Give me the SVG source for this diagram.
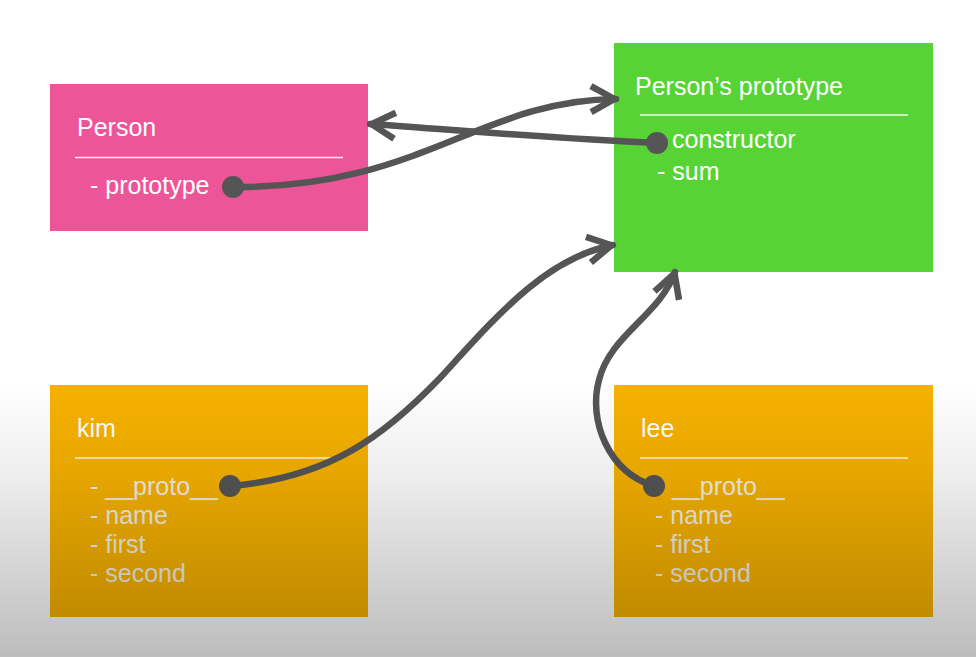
<svg xmlns="http://www.w3.org/2000/svg" width="976" height="657" viewBox="0 0 976 657">
  <defs>
    <style>
      .box-title { font-family: "Liberation Sans", Arial, sans-serif; font-size: 25px; fill: #ffffff; }
      .item { font-family: "Liberation Sans", Arial, sans-serif; font-size: 25px; fill: #ffffff; }
      .item-soft { fill: #f3efe4; }
      .rule { stroke: #ffffff; stroke-width: 1.5; opacity: 0.9; }
      .link { fill: none; stroke: #555555; stroke-width: 6.5; stroke-linecap: round; }
      .dot { fill: #555555; }
    </style>
    <marker id="chevron" markerUnits="userSpaceOnUse" markerWidth="60" markerHeight="60"
            refX="0" refY="0" orient="auto" overflow="visible" viewBox="-30 -30 60 60">
      <path d="M-25,-13 L-1.5,0 L-25,13" fill="none" stroke="#555555" stroke-width="6.5"
            stroke-linejoin="round" stroke-linecap="butt"/>
    </marker>
    <linearGradient id="shade" x1="0" y1="380" x2="0" y2="657" gradientUnits="userSpaceOnUse">
      <stop offset="0" stop-color="#000" stop-opacity="0"/>
      <stop offset="0.35" stop-color="#000" stop-opacity="0.07"/>
      <stop offset="1" stop-color="#000" stop-opacity="0.26"/>
    </linearGradient>
  </defs>

  <rect x="0" y="0" width="976" height="657" fill="#ffffff"/>

  <!-- Person constructor function -->
  <g id="person">
    <rect x="50" y="84" width="318" height="147" fill="#ec5598"/>
    <text class="box-title" x="77" y="136">Person</text>
    <line class="rule" x1="75" y1="157.5" x2="343" y2="157.5"/>
    <text class="item" x="90" y="194">- prototype</text>
  </g>

  <!-- Person's prototype object -->
  <g id="person-prototype">
    <rect x="614" y="43" width="319" height="229" fill="#57d336"/>
    <text class="box-title" x="635" y="95">Person’s prototype</text>
    <line class="rule" x1="640" y1="115" x2="908" y2="115"/>
    <text class="item" x="672" y="148">constructor</text>
    <text class="item" x="657" y="180">- sum</text>
  </g>

  <!-- instance kim -->
  <g id="kim">
    <rect x="50" y="385" width="318" height="232" fill="#f7b200"/>
    <text class="box-title" x="77" y="437">kim</text>
    <line class="rule" x1="75" y1="458" x2="343" y2="458"/>
    <text class="item item-soft" x="90" y="495">- __proto__</text>
    <text class="item item-soft" x="90" y="524">- name</text>
    <text class="item item-soft" x="90" y="553">- first</text>
    <text class="item item-soft" x="90" y="582">- second</text>
  </g>

  <!-- instance lee -->
  <g id="lee">
    <rect x="614" y="385" width="319" height="232" fill="#f7b200"/>
    <text class="box-title" x="641" y="437">lee</text>
    <line class="rule" x1="640" y1="458" x2="908" y2="458"/>
    <text class="item item-soft" x="672" y="495">__proto__</text>
    <text class="item item-soft" x="655" y="524">- name</text>
    <text class="item item-soft" x="655" y="553">- first</text>
    <text class="item item-soft" x="655" y="582">- second</text>
  </g>

  <!-- references between objects -->
  <g id="connectors">
    <!-- Person.prototype -> Person's prototype -->
    <path class="link" d="M232,187 C420,189 480,100 616,99" marker-end="url(#chevron)"/>
    <!-- constructor -> Person -->
    <path class="link" d="M656,143 C560,139 470,131 370,124" marker-end="url(#chevron)"/>
    <!-- kim.__proto__ -> Person's prototype -->
    <path class="link" d="M230,486 C330,478 385,435 440,378 C495,318 545,258 613,245" marker-end="url(#chevron)"/>
    <!-- lee.__proto__ -> Person's prototype -->
    <path class="link" d="M654,486 C608,472 588,420 599,380 C610,335 660,315 675,272" marker-end="url(#chevron)"/>
    <circle class="dot" cx="233" cy="187" r="11"/>
    <circle class="dot" cx="657" cy="143" r="11"/>
    <circle class="dot" cx="230" cy="486" r="11"/>
    <circle class="dot" cx="654" cy="486" r="11"/>
  </g>

  <!-- soft darkening toward the bottom edge -->
  <rect x="0" y="380" width="976" height="277" fill="url(#shade)" pointer-events="none"/>
</svg>
